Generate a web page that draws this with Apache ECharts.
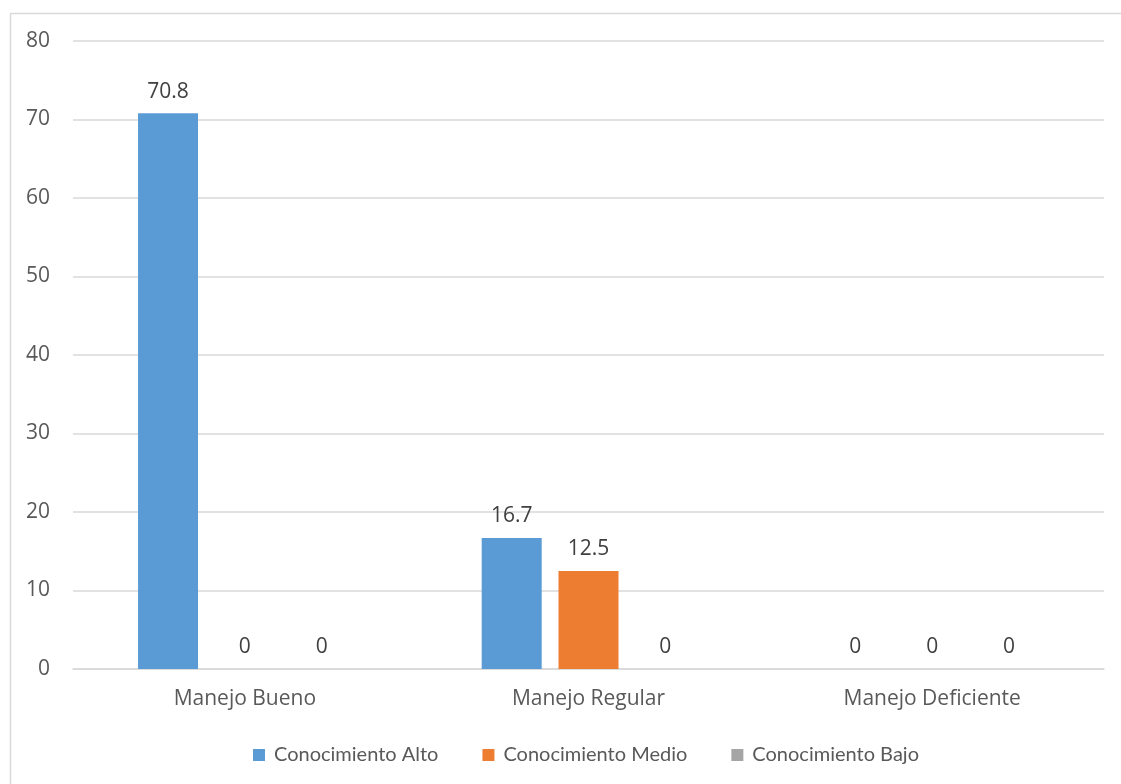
<!DOCTYPE html>
<html>
<head>
<meta charset="utf-8">
<script src="https://cdn.jsdelivr.net/npm/echarts@6/dist/echarts.min.js"></script>
<style>html,body{margin:0;padding:0;background:#fff;}#chart{width:1121px;height:784px;}</style>
</head>
<body>
<div id="chart"></div>
<script>
const categories = ['Manejo Bueno', 'Manejo Regular', 'Manejo Deficiente'];
const seriesNames = ['Conocimiento Alto', 'Conocimiento Medio', 'Conocimiento Bajo'];
const alto = [70.8, 16.7, 0];
const medio = [0, 12.5, 0];
const bajo = [0, 0, 0];
const colors = ['#5B9BD5', '#ED7D31', '#A5A5A5'];
const yTicks = [0, 10, 20, 30, 40, 50, 60, 70, 80];

const FONT = "'Open Sans', sans-serif";
const LFONT = "Lato, 'Open Sans', sans-serif";
const TXT = '#595959';
const chart = echarts.init(document.getElementById('chart'));
const values = [alto, medio, bajo];
chart.setOption({
  animation: false,
  textStyle: { fontFamily: FONT },
  graphic: [{
    type: 'rect', left: 8, top: 11,
    shape: { width: 1125, height: 790 },
    style: { fill: 'none', stroke: '#d9d9d9', lineWidth: 1.5 },
    silent: true
  }],
  grid: { left: 73, right: 17, top: 41, bottom: 115, containLabel: false },
  legend: {
    bottom: 14, left: 248, itemWidth: 12, itemHeight: 12, itemGap: 44,
    icon: 'rect',
    textStyle: { color: TXT, fontSize: 20, fontFamily: LFONT, padding: [0, 0, 0, 4] },
    data: seriesNames
  },
  xAxis: {
    type: 'category', data: categories,
    axisLine: { lineStyle: { color: '#d9d9d9', width: 1.5 } },
    axisTick: { show: false },
    axisLabel: { color: TXT, fontSize: 21, margin: 20, fontFamily: FONT }
  },
  yAxis: {
    type: 'value', min: yTicks[0], max: yTicks[yTicks.length - 1], interval: 10,
    axisLine: { show: false }, axisTick: { show: false },
    splitLine: { lineStyle: { color: '#d9d9d9', width: 1.5 } },
    axisLabel: { color: TXT, fontSize: 21, margin: 23, fontFamily: FONT }
  },
  series: seriesNames.map((n, i) => ({
    name: n, type: 'bar', data: values[i],
    barWidth: 60, barGap: '28%',
    itemStyle: { color: colors[i] },
    label: { show: true, position: 'top', distance: 11, color: '#404040', fontSize: 21, fontFamily: FONT }
  }))
});
</script>
</body>
</html>
